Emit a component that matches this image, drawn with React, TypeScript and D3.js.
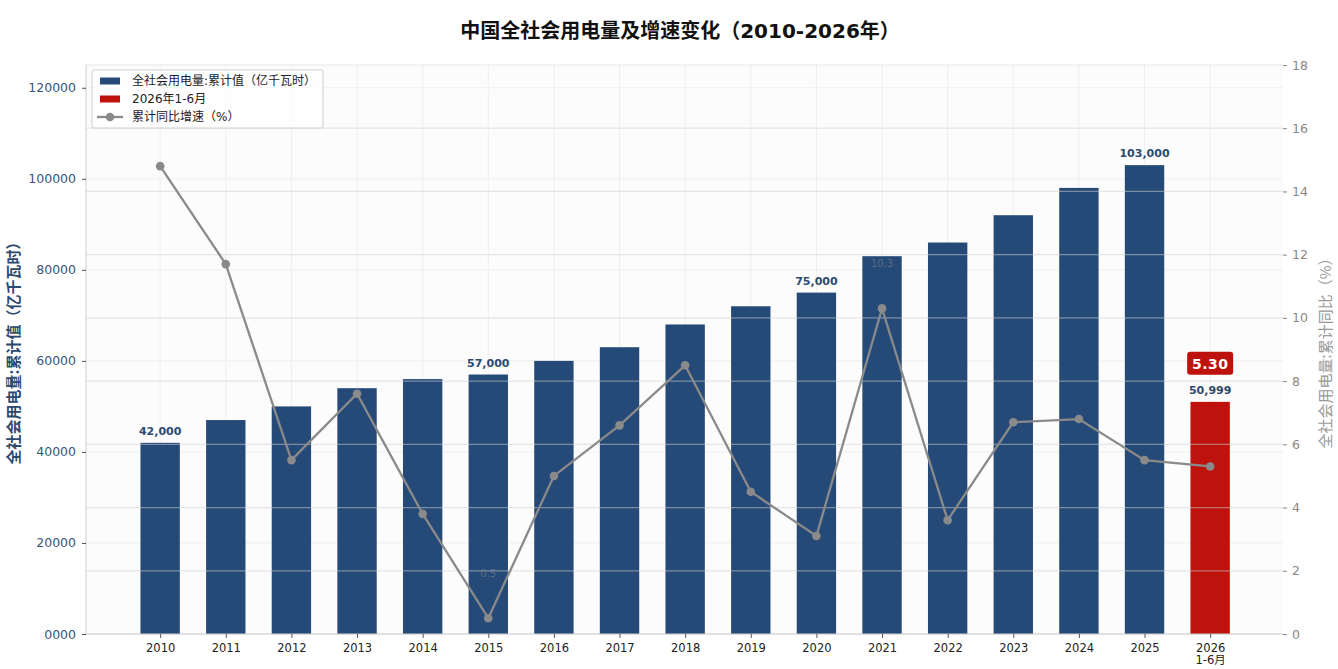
import React, { useRef, useEffect } from "react";
import * as d3 from "d3";

// data
const years = ["2010", "2011", "2012", "2013", "2014", "2015", "2016", "2017", "2018", "2019", "2020", "2021", "2022", "2023", "2024", "2025", "2026"];
const consumption = [42000, 47000, 50000, 54000, 56000, 57000, 60000, 63000, 68000, 72000, 75000, 83000, 86000, 92000, 98000, 103000, 50999];
const growth = [14.8, 11.7, 5.5, 7.6, 3.8, 0.5, 5.0, 6.6, 8.5, 4.5, 3.1, 10.3, 3.6, 6.7, 6.8, 5.5, 5.3];
const labelledBars = ["2010", "2015", "2020", "2025", "2026"];
const labelledGrowth = ["2010", "2015", "2021"];
const leftTicks = [0, 20000, 40000, 60000, 80000, 100000, 120000];
const rightTicks = [0, 2, 4, 6, 8, 10, 12, 14, 16, 18];

const FONT = "'DejaVu Sans', 'Noto Sans CJK SC', sans-serif";
const BLUE = "#264a78";
const RED = "#be130c";
const GRAY = "#8a8a8a";

export default function App() {
  const svgRef = useRef(null);

  useEffect(() => {
    document.body.style.margin = "0";
    const width = 1338;
    const height = 669;
    const svg = d3.select(svgRef.current);
    svg.selectAll("*").remove();
    svg.attr("width", width).attr("height", height).style("font-family", FONT);

    const left = 86, right = 1283, top = 65, bottom = 634;

    const x = d3.scaleLinear().domain([-1.13, 17.11]).range([left, right]);
    const yL = d3.scaleLinear().domain([0, 125000]).range([bottom, top]);
    const yR = d3.scaleLinear().domain([0, 18]).range([bottom, top]);
    const step = x(1) - x(0);
    const barW = step * 0.6;

    svg.append("rect").attr("width", width).attr("height", height).attr("fill", "#fff");
    svg.append("rect").attr("x", left).attr("y", top).attr("width", right - left).attr("height", bottom - top).attr("fill", "#fcfcfc");

    // faint background grid (left axis)
    const grid = svg.append("g").attr("stroke", "#efefef").attr("stroke-width", 1);
    grid.selectAll("line.h").data(leftTicks).join("line")
      .attr("x1", left).attr("x2", right)
      .attr("y1", (d) => yL(d)).attr("y2", (d) => yL(d));
    grid.selectAll("line.v").data(years).join("line")
      .attr("x1", (d, i) => x(i)).attr("x2", (d, i) => x(i))
      .attr("y1", top).attr("y2", bottom);

    // bars
    svg.append("g").selectAll("rect").data(years).join("rect")
      .attr("x", (d, i) => x(i) - barW / 2)
      .attr("width", barW)
      .attr("y", (d, i) => yL(consumption[i]))
      .attr("height", (d, i) => bottom - yL(consumption[i]))
      .attr("fill", (d) => (d === "2026" ? RED : BLUE));

    // bar value labels
    svg.append("g").selectAll("text").data(years.filter((d) => labelledBars.includes(d))).join("text")
      .attr("x", (d) => x(years.indexOf(d)))
      .attr("y", (d) => yL(consumption[years.indexOf(d)]) - 8)
      .attr("text-anchor", "middle")
      .attr("font-size", 11)
      .attr("font-weight", "bold")
      .attr("fill", "#2d4a6e")
      .text((d) => d3.format(",")(consumption[years.indexOf(d)]));

    // right-axis grid drawn over the bars
    svg.append("g").selectAll("line").data(rightTicks.slice(1)).join("line")
      .attr("x1", left).attr("x2", right)
      .attr("y1", (d) => yR(d)).attr("y2", (d) => yR(d))
      .attr("stroke", "#cfcfcf").attr("stroke-opacity", 0.5).attr("stroke-width", 1.2);

    // growth labels (faint)
    svg.append("g").selectAll("text").data(labelledGrowth).join("text")
      .attr("x", (d) => x(years.indexOf(d)))
      .attr("y", (d) => yR(growth[years.indexOf(d)] + 1.3))
      .attr("text-anchor", "middle")
      .attr("font-size", 10)
      .attr("fill", GRAY)
      .attr("fill-opacity", 0.55)
      .text((d) => growth[years.indexOf(d)].toFixed(1));

    // growth line
    const line = d3.line<number>().x((d, i) => x(i)).y((d) => yR(d));
    svg.append("path").datum(growth)
      .attr("d", line)
      .attr("fill", "none")
      .attr("stroke", GRAY)
      .attr("stroke-width", 2.3);
    svg.append("g").selectAll("circle").data(growth).join("circle")
      .attr("cx", (d, i) => x(i)).attr("cy", (d) => yR(d)).attr("r", 4.3)
      .attr("fill", GRAY);

    // highlighted latest growth value
    const last = growth.length - 1;
    const badge = svg.append("g").attr("transform", `translate(${x(last)},${yL(consumption[last]) - 38})`);
    badge.append("rect").attr("x", -23).attr("y", -12).attr("width", 46).attr("height", 23).attr("rx", 3).attr("fill", RED);
    badge.append("text").attr("text-anchor", "middle").attr("dy", "0.36em")
      .attr("font-size", 14).attr("font-weight", "bold").attr("fill", "#fff")
      .attr("letter-spacing", 0.5)
      .text(growth[last].toFixed(2));

    // spines
    svg.append("line").attr("x1", left).attr("x2", left).attr("y1", top).attr("y2", bottom).attr("stroke", "#cccccc");
    svg.append("line").attr("x1", left).attr("x2", right).attr("y1", bottom).attr("y2", bottom).attr("stroke", "#cccccc");

    // left axis
    const gL = svg.append("g").attr("transform", `translate(${left},0)`)
      .call(d3.axisLeft(yL).tickValues(leftTicks).tickFormat((d) => (+d === 0 ? "0000" : String(d))).tickSize(4).tickPadding(6));
    gL.select(".domain").remove();
    gL.selectAll("line").attr("stroke", "#555");
    gL.selectAll("text").attr("font-size", 12.5).attr("fill", "#3a5578").attr("font-family", FONT);

    // right axis
    const gR = svg.append("g").attr("transform", `translate(${right},0)`)
      .call(d3.axisRight(yR).tickValues(rightTicks).tickSize(4).tickPadding(5));
    gR.select(".domain").remove();
    gR.selectAll("line").attr("stroke", "#888");
    gR.selectAll("text").attr("font-size", 12.5).attr("fill", "#888").attr("font-family", FONT);

    // bottom axis
    const gB = svg.append("g").attr("transform", `translate(0,${bottom})`)
      .call(d3.axisBottom(x).tickValues(d3.range(years.length)).tickFormat((d) => years[+d]).tickSize(4).tickPadding(6));
    gB.select(".domain").remove();
    gB.selectAll("line").attr("stroke", "#555");
    gB.selectAll("text").attr("font-size", 11.5).attr("fill", "#222").attr("font-family", FONT);
    gB.selectAll("text").filter((d) => years[+d] === "2026")
      .append("tspan").attr("x", 0).attr("dy", "1.05em").text("1-6月");

    // axis titles
    svg.append("text")
      .attr("transform", `translate(14,${(top + bottom) / 2}) rotate(-90)`)
      .attr("text-anchor", "middle").attr("dy", "0.35em")
      .attr("font-size", 15).attr("font-weight", "bold").attr("fill", "#2d4a6e")
      .attr("font-family", "'Noto Sans CJK SC', sans-serif")
      .text("全社会用电量:累计值（亿千瓦时）");
    svg.append("text")
      .attr("transform", `translate(1326,${(top + bottom) / 2}) rotate(-90)`)
      .attr("text-anchor", "middle").attr("dy", "0.35em")
      .attr("font-size", 15).attr("fill", "#999")
      .attr("font-family", "'Noto Sans CJK SC', sans-serif")
      .text("全社会用电量:累计同比（%）");

    // title
    svg.append("text")
      .attr("x", 680).attr("y", 38)
      .attr("text-anchor", "middle")
      .attr("font-size", 20).attr("font-weight", "bold").attr("fill", "#111")
      .text("中国全社会用电量及增速变化（2010-2026年）");

    // legend
    const lg = svg.append("g").attr("transform", "translate(92,70)");
    lg.append("rect").attr("width", 231).attr("height", 58).attr("rx", 2)
      .attr("fill", "#fff").attr("fill-opacity", 0.75).attr("stroke", "#d0d0d0");
    const items = [
      { label: "全社会用电量:累计值（亿千瓦时）", kind: "bar", color: BLUE },
      { label: "2026年1-6月", kind: "bar", color: RED },
      { label: "累计同比增速（%）", kind: "line", color: GRAY },
    ];
    const row = lg.selectAll("g").data(items).join("g")
      .attr("transform", (d, i) => `translate(0,${11 + i * 18})`);
    row.filter((d) => d.kind === "bar").append("rect")
      .attr("x", 8).attr("y", -3.5).attr("width", 20).attr("height", 7).attr("fill", (d) => d.color);
    row.filter((d) => d.kind === "line").append("line")
      .attr("x1", 5).attr("x2", 31).attr("stroke", GRAY).attr("stroke-width", 2.3);
    row.filter((d) => d.kind === "line").append("circle")
      .attr("cx", 18).attr("r", 4.3).attr("fill", GRAY);
    row.append("text").attr("x", 40).attr("dy", "0.35em")
      .attr("font-size", 12).attr("fill", "#222")
      .text((d) => d.label);
  }, []);

  return <svg ref={svgRef}></svg>;
}
